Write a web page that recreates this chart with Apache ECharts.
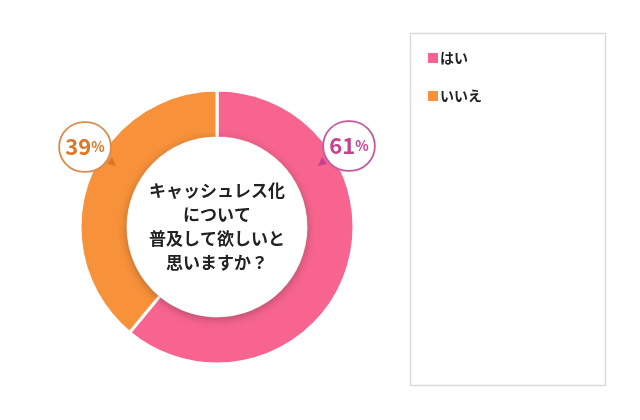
<!DOCTYPE html>
<html>
<head>
<meta charset="utf-8">
<script src="https://cdn.jsdelivr.net/npm/echarts@6/dist/echarts.min.js"></script>
<style>
  html, body { margin: 0; padding: 0; background: #fff; }
  #main { width: 640px; height: 420px; }
</style>
</head>
<body>
<div id="main"></div>
<script>
var categories = ['はい', 'いいえ'];
var values = [61, 39];
var sliceColors = ['#F7648F', '#F7913A'];
var labelColors = ['#C6428F', '#DE7626'];
var labelBorders = ['#C45A9E', '#D98C4E'];
var question = 'キャッシュレス化\nについて\n普及して欲しいと\n思いますか？';

var fontFamily = '"Noto Sans CJK JP", "Noto Sans", sans-serif';
var chart = echarts.init(document.getElementById('main'));

// ラベルの位置 (円の外、上側)
var labelPos = [[349, 146], [85, 147]];

var pieData = [];
for (var i = 0; i < categories.length; i++) {
    pieData.push({
        name: categories[i],
        value: values[i],
        itemStyle: { color: sliceColors[i] },
        label: {
            borderColor: labelBorders[i],
            rich: {
                n: { fontSize: 22, fontWeight: 'bold', color: labelColors[i], fontFamily: fontFamily, lineHeight: 48 },
                p: { fontSize: 14, fontWeight: 'bold', color: labelColors[i], fontFamily: fontFamily, lineHeight: 48 }
            }
        }
    });
}

var option = {
    animation: false,
    backgroundColor: '#fff',
    legend: {
        data: categories,
        orient: 'vertical',
        left: 421,
        top: 46,
        icon: 'rect',
        itemWidth: 12,
        itemHeight: 12,
        itemGap: 24,
        selectedMode: false,
        textStyle: { fontSize: 14, fontWeight: 'bold', color: '#222', fontFamily: fontFamily, padding: [0, 0, 0, -4] }
    },
    graphic: [
        {
            type: 'rect',
            shape: { x: 410.5, y: 33.5, width: 195, height: 352 },
            style: { fill: 'none', stroke: '#dcdcdc', lineWidth: 1.5 },
            silent: true
        },
        {
            type: 'polygon',
            z: 20,
            shape: { points: [[112, 157], [116, 166], [107, 164]] },
            style: { fill: labelColors[1] },
            silent: true
        },
        {
            type: 'polygon',
            z: 20,
            shape: { points: [[322, 157], [318, 166], [327, 164]] },
            style: { fill: labelColors[0] },
            silent: true
        }
    ],
    series: [
        {
            type: 'pie',
            center: [217, 227],
            radius: [0, 90],
            silent: true,
            z: 3,
            data: [{ name: 'q', value: 1 }],
            itemStyle: {
                color: '#fff',
                shadowBlur: 10,
                shadowColor: 'rgba(0,0,0,0.28)',
                shadowOffsetY: 2
            },
            label: {
                show: true,
                position: 'center',
                formatter: question,
                fontSize: 17,
                fontWeight: 'bold',
                color: '#222',
                lineHeight: 24,
                padding: [4, 0, 0, 0],
                fontFamily: fontFamily
            },
            labelLine: { show: false }
        },
        {
            type: 'pie',
            center: [217, 227],
            radius: [89, 137],
            startAngle: 90,
            clockwise: true,
            silent: true,
            z: 2,
            itemStyle: { borderColor: '#fff', borderWidth: 3 },
            label: {
                show: true,
                position: 'outside',
                formatter: '{n|{c}}{p|%}',
                backgroundColor: '#fff',
                borderWidth: 1.8,
                borderRadius: 27,
                width: 50,
                height: 48,
                align: 'center',
                verticalAlign: 'middle'
            },
            labelLine: { show: false },
            labelLayout: function (params) {
                var p = labelPos[params.dataIndex];
                return { x: p[0], y: p[1], align: 'center', verticalAlign: 'middle' };
            },
            data: pieData
        }
    ]
};

chart.setOption(option);
</script>
</body>
</html>
